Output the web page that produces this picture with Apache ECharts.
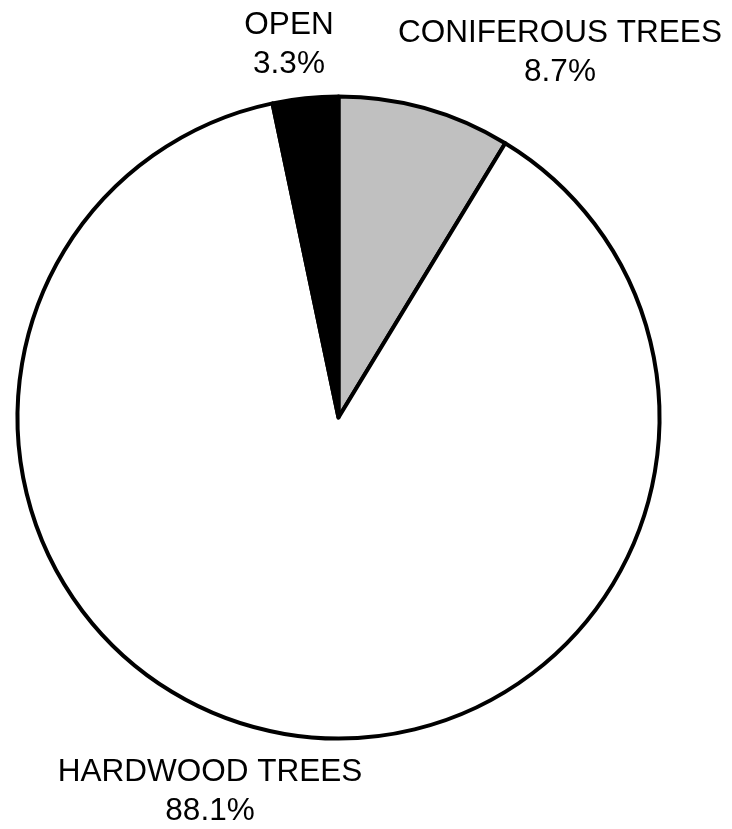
<!DOCTYPE html>
<html>
<head>
<meta charset="utf-8">
<script src="https://cdn.jsdelivr.net/npm/echarts@6/dist/echarts.min.js"></script>
<style>
  html, body { margin: 0; padding: 0; background: #fff; }
  #chart { width: 732px; height: 829px; }
</style>
</head>
<body>
<div id="chart"></div>
<script>
// Land cover shares, clockwise from 12 o'clock
const categories = ['CONIFEROUS TREES', 'HARDWOOD TREES', 'OPEN'];
const shares = [8.7, 88.1, 3.3];
const sliceColors = ['#c0c0c0', '#ffffff', '#000000'];

// Where each two-line label is centred
const labelSpots = [[560, 53], [210, 792], [289, 45]];

const chart = echarts.init(document.getElementById('chart'), null, { renderer: 'canvas' });

chart.setOption({
  animation: false,
  backgroundColor: '#ffffff',
  series: [{
    type: 'pie',
    center: [338.5, 417.5],
    radius: 321,
    startAngle: 90,
    clockwise: true,
    silent: true,
    data: categories.map((name, i) => ({
      name,
      value: shares[i],
      itemStyle: { color: sliceColors[i] }
    })),
    itemStyle: {
      borderColor: '#000000',
      borderWidth: 4,
      borderJoin: 'round'
    },
    label: {
      show: true,
      position: 'outside',
      formatter: p => p.name + '\n' + p.value.toFixed(1) + '%',
      fontFamily: 'Liberation Sans, Arial, sans-serif',
      fontSize: 31.5,
      lineHeight: 39,
      color: '#000000',
      align: 'center',
      overflow: 'none'
    },
    labelLine: { show: false },
    labelLayout: params => {
      const [x, y] = labelSpots[params.dataIndex];
      return { x, y, align: 'center', verticalAlign: 'middle' };
    }
  }]
});
</script>
</body>
</html>
